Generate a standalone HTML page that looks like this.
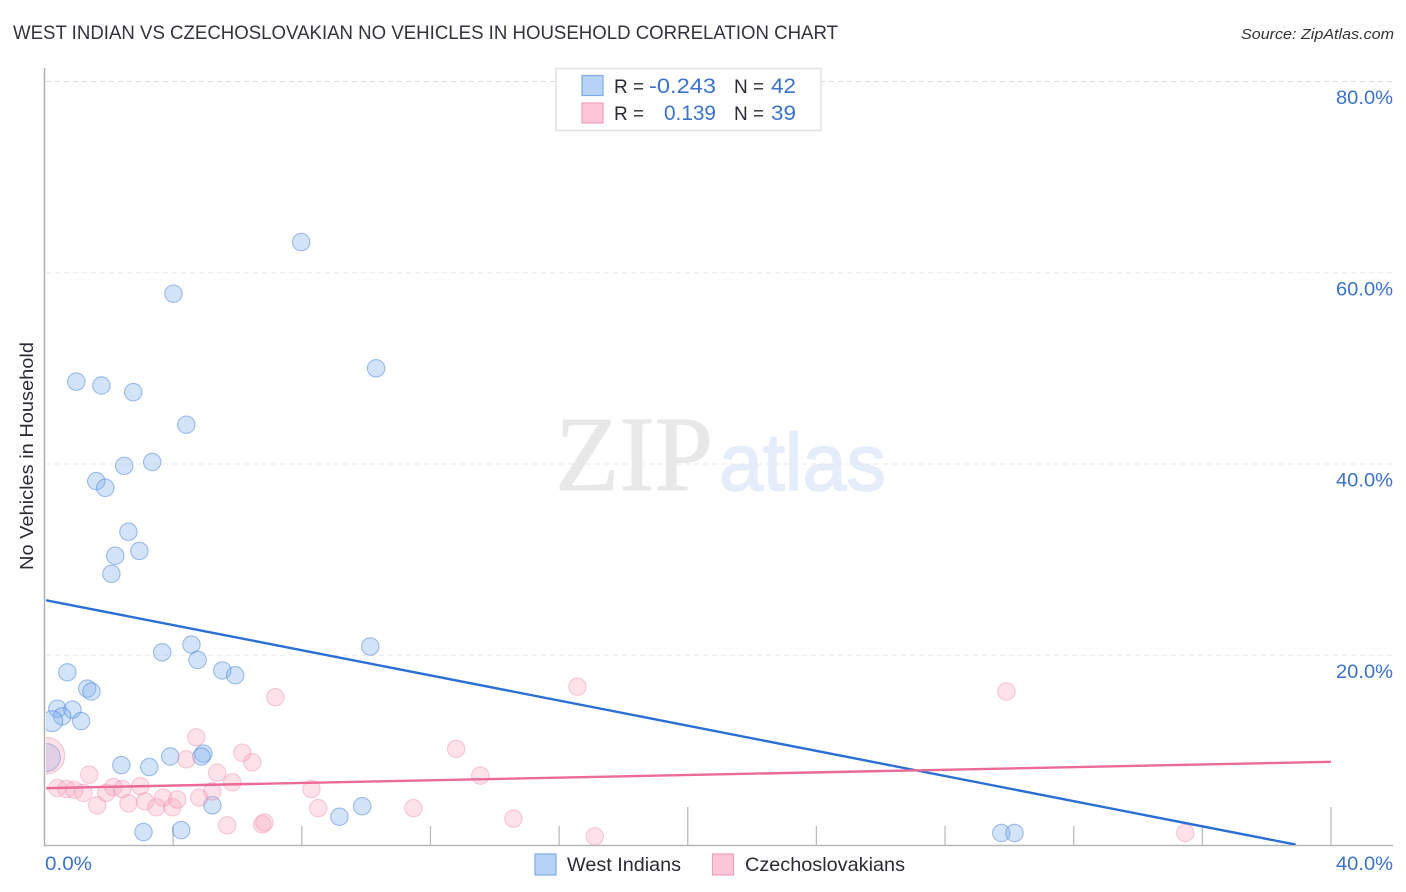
<!DOCTYPE html>
<html lang="en">
<head>
<meta charset="utf-8">
<title>West Indian vs Czechoslovakian No Vehicles in Household Correlation Chart</title>
<style>
html,body{margin:0;padding:0;background:#fff;width:1406px;height:892px;overflow:hidden}
svg{display:block;font-family:"Liberation Sans",sans-serif}
</style>
</head>
<body>
<svg id="chart" width="1406" height="892" viewBox="0 0 1406 892" xmlns="http://www.w3.org/2000/svg">
  <defs>
    <clipPath id="plot-clip"><rect x="46" y="60" width="1350" height="785"/></clipPath>
  </defs>
  <text x="13" y="39" font-size="19.5" fill="#33333b" textLength="825" lengthAdjust="spacingAndGlyphs">WEST INDIAN VS CZECHOSLOVAKIAN NO VEHICLES IN HOUSEHOLD CORRELATION CHART</text>
  <text x="1241" y="39" font-size="15" font-style="italic" fill="#333" textLength="153" lengthAdjust="spacingAndGlyphs">Source: ZipAtlas.com</text>

  <g>
    <text x="555" y="490" font-family="'Liberation Serif',serif" font-size="107" fill="#e8e8e8" stroke="#e8e8e8" stroke-width="0.8" textLength="158" lengthAdjust="spacingAndGlyphs">ZIP</text>
    <text x="719" y="490" font-size="81" fill="#e4edf9" stroke="#e4edf9" stroke-width="1.6" textLength="167" lengthAdjust="spacingAndGlyphs">atlas</text>
  </g>

  <g id="grid"></g>
  <g id="axes"></g>
  <g id="y-title-wrap">
    <text transform="translate(33,570) rotate(-90)" font-size="18.5" fill="#2b2b33" textLength="228" lengthAdjust="spacingAndGlyphs">No Vehicles in Household</text>
  </g>
  <g id="points" clip-path="url(#plot-clip)"></g>
  <g id="trends" clip-path="url(#plot-clip)"></g>
  <g id="tick-labels"></g>

  <g>
    <rect x="556" y="68.5" width="265" height="62" fill="#fff" stroke="#e2e2e2" stroke-width="1.5"/>
    <rect x="582" y="75.5" width="21" height="20" fill="#b9d3f7" stroke="#7fabe6" stroke-width="1.2"/>
    <rect x="582" y="103" width="21" height="20" fill="#fdc6d8" stroke="#f0a0ba" stroke-width="1.2"/>
    <text x="614" y="93" font-size="19" fill="#2b2b33">R =</text>
    <text x="716" y="93" font-size="21.5" fill="#3a72cc" text-anchor="end" textLength="67" lengthAdjust="spacingAndGlyphs">-0.243</text>
    <text x="734" y="93" font-size="19" fill="#2b2b33">N =</text>
    <text x="796" y="93" font-size="21.5" fill="#3a72cc" text-anchor="end" textLength="25" lengthAdjust="spacingAndGlyphs">42</text>
    <text x="614" y="120" font-size="19" fill="#2b2b33">R =</text>
    <text x="716" y="120" font-size="21.5" fill="#3a72cc" text-anchor="end" textLength="52" lengthAdjust="spacingAndGlyphs">0.139</text>
    <text x="734" y="120" font-size="19" fill="#2b2b33">N =</text>
    <text x="796" y="120" font-size="21.5" fill="#3a72cc" text-anchor="end" textLength="25" lengthAdjust="spacingAndGlyphs">39</text>
  </g>

  <g>
    <rect x="535" y="854" width="21" height="21" fill="#b9d3f7" stroke="#7fabe6" stroke-width="1.2"/>
    <text x="567" y="871" font-size="19.5" fill="#2b2b33" textLength="114" lengthAdjust="spacingAndGlyphs">West Indians</text>
    <rect x="712.5" y="854" width="21" height="21" fill="#fdc6d8" stroke="#f0a0ba" stroke-width="1.2"/>
    <text x="745" y="871" font-size="19.5" fill="#2b2b33" textLength="160" lengthAdjust="spacingAndGlyphs">Czechoslovakians</text>
  </g>
</svg>
<script>
const yTicks = [20, 40, 60, 80];
const yTickLabels = ['20.0%', '40.0%', '60.0%', '80.0%'];
const xTicks = [0, 4, 8, 12, 16, 20, 24, 28, 32, 36, 40];
const xMajorTicks = [0, 20, 40];
const xEndLabels = ['0.0%', '40.0%'];

const blueX = [7.97,4.0,10.3,0.98,1.76,2.75,4.4,3.34,2.47,1.6,1.88,2.6,2.19,2.94,2.07,4.56,3.65,4.75,10.12,5.52,5.92,0.7,1.32,1.45,0.39,0.86,0.54,1.13,0.23,0.05,2.38,3.25,3.9,4.93,4.87,5.21,3.07,4.24,9.16,9.87,29.74,30.15];
const blueY = [63.2,57.8,50.0,48.6,48.2,47.5,44.1,40.2,39.8,38.2,37.5,32.9,30.4,30.9,28.5,21.1,20.3,19.5,20.9,18.4,17.9,18.2,16.5,16.2,14.4,14.3,13.6,13.1,13.1,9.3,8.5,8.3,9.4,9.7,9.4,4.3,1.5,1.7,3.1,4.2,1.4,1.4];
const blueSize = [1,1,1,1,1,1,1,1,1,1,1,1,1,1,1,1,1,1,1,1,1,1,1,1,1,1,1,1,1.2,1.6,1,1,1,1,1,1,1,1,1,1,1,1];

const pinkX = [0.05,7.17,16.56,29.9,12.79,13.54,4.71,4.4,6.14,6.45,5.36,5.83,5.21,4.8,8.29,8.5,11.46,14.57,17.1,35.46,5.67,6.76,6.83,1.38,1.63,0.39,0.67,0.92,1.2,1.91,2.13,2.41,2.6,2.97,3.12,3.47,3.68,3.97,4.12];
const pinkY = [9.5,15.6,16.7,16.2,10.2,7.4,11.4,9.1,9.8,8.8,7.7,6.7,5.75,5.1,6.0,4.0,4.0,2.9,1.05,1.4,2.2,2.3,2.5,7.5,4.3,6.1,6.0,5.9,5.6,5.6,6.2,6.0,4.5,6.3,4.7,4.1,5.1,4.1,4.9];
const pinkSize = [2.1,1,1,1,1,1,1,1,1,1,1,1,1,1,1,1,1,1,1,1,1,1,1,1,1,1,1,1,1,1,1,1,1,1,1,1,1,1,1];

const blueTrendX = [0.05, 38.9];
const blueTrendY = [25.7, 0.15];
const pinkTrendX = [0.05, 40];
const pinkTrendY = [6.05, 8.8];

const NS = 'http://www.w3.org/2000/svg';
const sx = v => 44.5 + v * (1286.5 / 40);
const sy = v => 846 - v * (191.25 / 20);
const make = (tag, attrs, parent) => {
  const el = document.createElementNS(NS, tag);
  for (const k in attrs) el.setAttribute(k, attrs[k]);
  parent.appendChild(el);
  return el;
};

const grid = document.getElementById('grid');
yTicks.forEach(t => {
  const el = make('line', {x1: 46, x2: 1393, y1: sy(t) + 0.5, y2: sy(t) + 0.5, stroke: t === 80 ? '#dcdcdc' : '#e8e8e8', 'stroke-width': 1, 'stroke-dasharray': '5 4'}, grid);
  
  
});

const axes = document.getElementById('axes');
const yAxis = make('line', {x1: 44.5, x2: 44.5, y1: 68, y2: 846.5, stroke: '#b0b0b0', 'stroke-width': 1.5}, axes);


const xAxis = make('line', {x1: 44, x2: 1393, y1: 845.5, y2: 845.5, stroke: '#b8b8b8', 'stroke-width': 1.4}, axes);


xTicks.forEach(t => {
  if (t === 0) return;
  const major = xMajorTicks.includes(t);
  const el = make('line', {x1: sx(t), x2: sx(t), y1: major ? 807 : 826, y2: 845, stroke: '#bcbcbc', 'stroke-width': 1.3}, axes);
  
  
});

const points = document.getElementById('points');
function drawSeries(xs, ys, sizes, fill, stroke, name) {
  xs.forEach((x, i) => {
    const el = make('circle', {cx: sx(x) + 0.3, cy: sy(ys[i]) + 0.4, r: 8.7 * sizes[i], fill: fill, stroke: stroke, 'stroke-width': 1.1}, points);
    
    
  });
}
drawSeries(blueX, blueY, blueSize, 'rgba(130,175,235,0.34)', 'rgba(70,130,220,0.5)', 'west-indians-point');
drawSeries(pinkX, pinkY, pinkSize, 'rgba(250,165,190,0.32)', 'rgba(240,130,165,0.4)', 'czechoslovakians-point');

const trends = document.getElementById('trends');
const blueTrend = make('line', {x1: sx(blueTrendX[0]), y1: sy(blueTrendY[0]), x2: sx(blueTrendX[1]), y2: sy(blueTrendY[1]), stroke: '#2a6fd6', 'stroke-width': 2.4}, trends);


const pinkTrend = make('line', {x1: sx(pinkTrendX[0]), y1: sy(pinkTrendY[0]), x2: sx(pinkTrendX[1]), y2: sy(pinkTrendY[1]), stroke: '#ec6a96', 'stroke-width': 2.4}, trends);



const labels = document.getElementById('tick-labels');
yTicks.forEach((t, i) => {
  const el = make('text', {x: 1393, y: sy(t) + 23, 'text-anchor': 'end', 'font-size': 19.5, fill: '#3a72cc', textLength: 57, lengthAdjust: 'spacingAndGlyphs'}, labels);
  
  
  el.textContent = yTickLabels[i];
});
const x0 = make('text', {x: 45, y: 870, 'font-size': 19.5, fill: '#3a72cc', textLength: 47, lengthAdjust: 'spacingAndGlyphs'}, labels);


x0.textContent = xEndLabels[0];
const x1 = make('text', {x: 1336, y: 870, 'font-size': 19.5, fill: '#3a72cc', textLength: 57, lengthAdjust: 'spacingAndGlyphs'}, labels);


x1.textContent = xEndLabels[1];
</script>
</body>
</html>
